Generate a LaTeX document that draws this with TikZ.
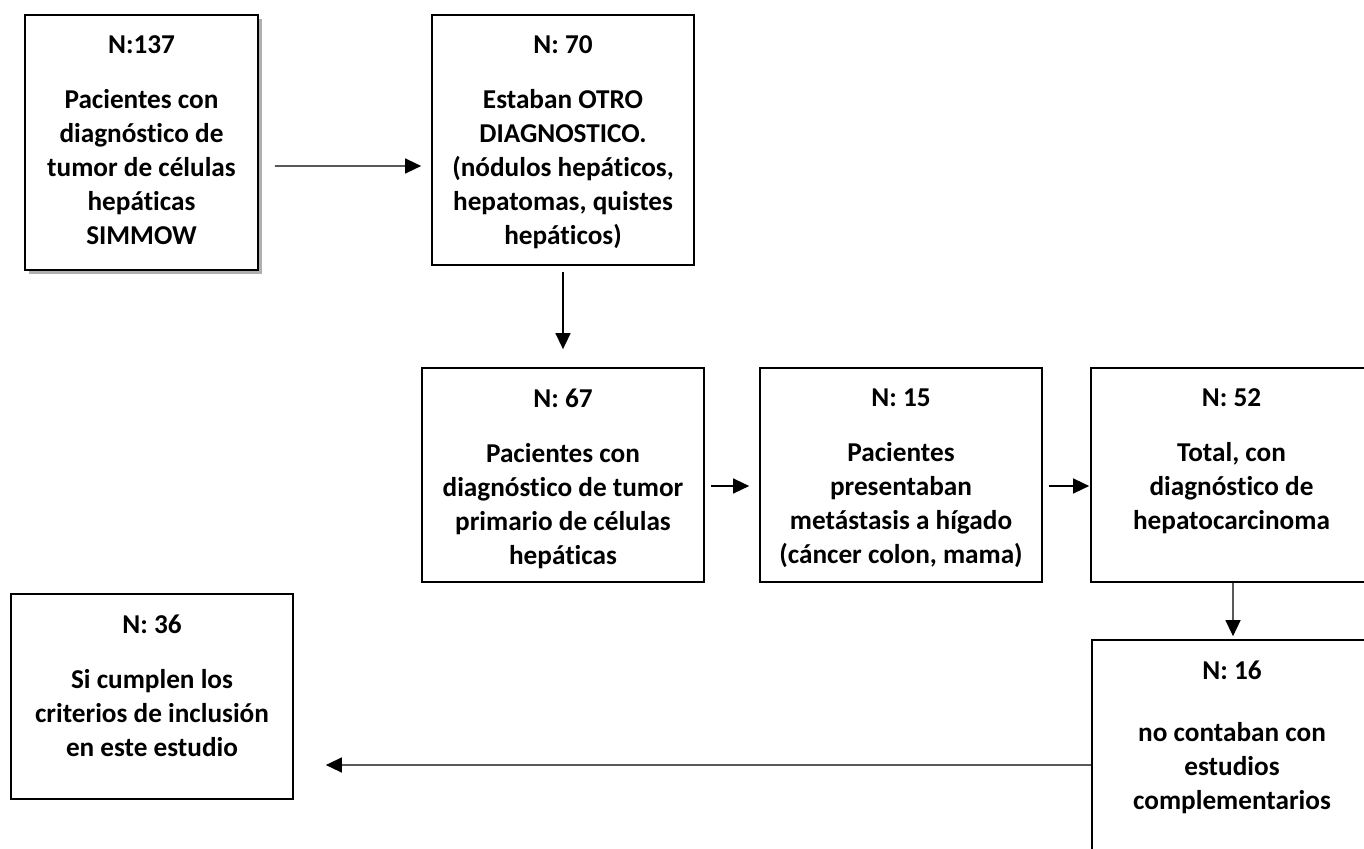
\documentclass[tikz,border=0pt]{standalone}
\usepackage{fontspec}
\setmainfont{Carlito}[Ligatures=NoCommon]
\usepackage{xcolor}
\usepackage{tikz}
\usetikzlibrary{arrows.meta,positioning,shadows}
\definecolor{edge}{HTML}{000000}
\definecolor{shade}{HTML}{7A7A7A}
\tikzset{
  panel/.style={draw=edge,line width=1pt,fill=white,inner sep=0pt},
  lifted/.style={drop shadow={shadow xshift=.08cm,shadow yshift=-.08cm,fill=shade,opacity=.6}},
  caption/.style={inner sep=0pt,align=center,text=edge,
    font=\fontsize{15.5pt}{19.4pt}\selectfont\bfseries},
  flow/.style={-{Triangle[length=.32cm,width=.3cm]},line width=.8pt,color=edge},
}
\newcommand{\nsep}{\\[.42cm]}

\begin{document}
\begin{tikzpicture}[x=.02cm,y=-.02cm]
  \useasboundingbox (0,0) rectangle (1364,848);
  % boxes
  \node[panel,lifted,minimum width=4.66cm,minimum height=5.1cm] (b137) at (141.5,142.5) {};
  \node[panel,minimum width=5.24cm,minimum height=5cm] (b70) at (563,140) {};
  \node[panel,minimum width=5.64cm,minimum height=4.28cm] (b67) at (563,475) {};
  \node[panel,minimum width=5.64cm,minimum height=4.28cm] (b15) at (901,475) {};
  \node[panel,minimum width=5.62cm,minimum height=4.28cm] (b52) at (1231.5,475) {};
  \node[panel,minimum width=5.6cm,minimum height=4.32cm] (b16) at (1232,748) {};
  \node[panel,minimum width=5.64cm,minimum height=4.1cm] (b36) at (152,696.5) {};
  % texts
  \node[caption,below=.42cm of b137.north] (t137) {N:137\nsep Pacientes con\\diagnóstico de\\tumor de células\\hepáticas\\SIMMOW};
  \node[caption,below=.42cm of b70.north] (t70) {N: 70\nsep Estaban OTRO\\DIAGNOSTICO.\\(nódulos hepáticos,\\hepatomas, quistes\\hepáticos)};
  \node[caption,below=.42cm of b67.north] (t67) {N: 67\nsep Pacientes con\\diagnóstico de tumor\\primario de células\\hepáticas};
  \node[caption,below=.42cm of b15.north] (t15) {N: 15\nsep Pacientes\\presentaban\\metástasis a hígado\\(cáncer colon, mama)};
  \node[caption,below=.42cm of b52.north] (t52) {N: 52\nsep Total, con\\diagnóstico de\\hepatocarcinoma};
  \node[caption,below=.42cm of b16.north] (t16) {N: 16\\[.56cm]no contaban con\\estudios\\complementarios};
  \node[caption,below=.42cm of b36.north] (t36) {N: 36\nsep Si cumplen los\\criterios de inclusión\\en este estudio};
  % arrows
  \draw[flow] ([shift={(16,23.5)}]b137.east) -- ([shift={(-10,26)}]b70.west);
  \draw[flow] ([shift={(0,6)}]b70.south) -- ([shift={(0,-18)}]b67.north);
  \draw[flow] ([shift={(6,11)}]b67.east) -- ([shift={(-10,11)}]b15.west);
  \draw[flow] ([shift={(6,11)}]b15.east) -- ([shift={(-1,11)}]b52.west);
  \draw[flow] ([xshift=.03cm]b52.south) -- ([shift={(1,-3)}]b16.north);
  \draw[flow] ([shift={(0,17)}]b16.west) -- ([shift={(32,68.5)}]b36.east);
\end{tikzpicture}
\end{document}
